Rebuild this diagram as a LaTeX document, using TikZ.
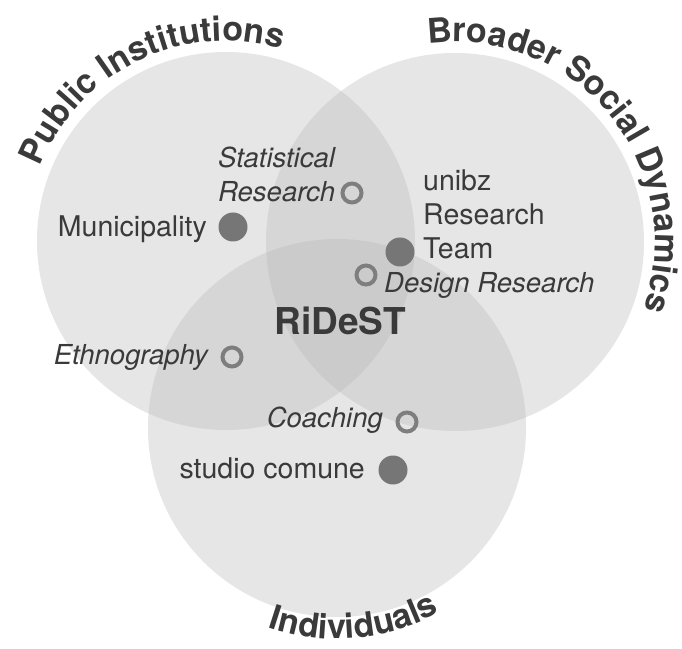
\documentclass[tikz,border=0pt]{standalone}
\usepackage{fontspec}
\setmainfont{TeX Gyre Heros}
\usetikzlibrary{decorations.text}
\definecolor{Ink}{HTML}{3A3A3A}
\definecolor{Dot}{HTML}{767676}
\definecolor{Ring}{HTML}{7E7E7E}
\definecolor{Sphere}{HTML}{BABABA}
\newcommand{\ringtitle}{\fontsize{34}{40}\selectfont\bfseries}

\begin{document}
\begin{tikzpicture}[x=1pt,y=1pt,every node/.style={text=Ink,inner sep=0pt},
  lbl/.style={font=\fontsize{28.5}{34}\selectfont},
  meth/.style={font=\fontsize{27.5}{34}\selectfont\itshape},
  fulldot/.style={circle,fill=Dot,minimum size=29pt},
  ringdot/.style={circle,draw=Ring,line width=4pt,minimum size=19pt},
  area/.style={fill=Sphere,fill opacity=0.36}]
  \useasboundingbox (0,0) rectangle (682,648);
  \fill[white] (0,0) rectangle (682,648);

  % the three spheres
  \coordinate (pubC) at (226,407);
  \coordinate (socC) at (455,406);
  \coordinate (indC) at (337,220);
  \fill[area] (pubC) circle (189);
  \fill[area] (socC) circle (189);
  \fill[area] (indC) circle (189);

  \path[decorate,decoration={text along path,text color=Ink,text align=center,
      text={|\ringtitle|Public Institutions}}]
    ([shift={(176:200)}]pubC) arc[start angle=176,end angle=56,radius=200];
  \path[decorate,decoration={text along path,text color=Ink,text align=center,
      text={|\ringtitle|Broader Social Dynamics}}]
    ([shift={(109:200)}]socC) arc[start angle=109,end angle=-31,radius=200];
  \path[decorate,decoration={text along path,text color=Ink,text align=center,
      text={|\ringtitle|Individuals}}]
    ([shift={(-135:211)}]indC) arc[start angle=-135,end angle=-35,radius=211];

  % actors and methods
  \node[ringdot] (statDot) at (352,455) {};
  \node[meth,align=left,anchor=south west] (statTxt) at (218,446) {Statistical\\Research};

  \node[fulldot] (muniDot) at (233,421) {};
  \node[lbl,anchor=base east] (muniTxt) at (207,411) {Municipality};

  \node[fulldot] (unibzDot) at (400,396) {};
  \node[lbl,align=left,anchor=south west] (unibzTxt) at (423,389) {unibz\\Research\\Team};

  \node[ringdot] (designDot) at (366,373) {};
  \node[meth,anchor=base west] (designTxt) at (384,355) {Design Research};

  \node[font=\fontsize{37}{44}\selectfont\bfseries,anchor=base] (ridest) at (340,313) {RiDeST};

  \node[ringdot] (ethnoDot) at (232,291) {};
  \node[meth,anchor=base east] (ethnoTxt) at (208,283) {Ethnography};

  \node[ringdot] (coachDot) at (407,226) {};
  \node[meth,anchor=base east] (coachTxt) at (383,220) {Coaching};

  \node[fulldot] (studioDot) at (393,178) {};
  \node[lbl,anchor=base east] (studioTxt) at (365,170) {studio comune};
\end{tikzpicture}
\end{document}
